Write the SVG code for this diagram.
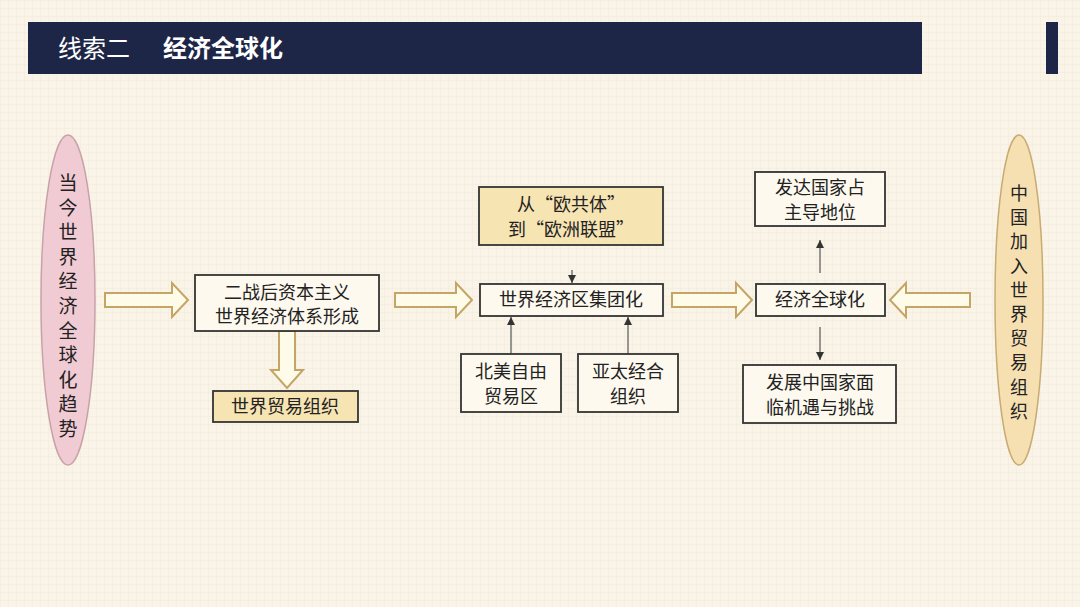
<svg xmlns="http://www.w3.org/2000/svg" width="1080" height="607" viewBox="0 0 1080 607">
<defs>
<pattern id="grid" width="8" height="8" patternUnits="userSpaceOnUse"><path d="M8 0H0V8" fill="none" stroke="#f0e9d9" stroke-width="0.8"/></pattern>
<marker id="ah" viewBox="0 0 10 10" refX="10" refY="5" markerWidth="7" markerHeight="7" orient="auto"><path d="M0 0L10 5L0 10z" fill="#333"/></marker>
<style>
.t{font-family:"Noto Sans CJK SC","Noto Sans",sans-serif;fill:#222;font-size:18px;text-anchor:middle}
.box{fill:#fdf9ee;stroke:#333;stroke-width:1.8}
.ybox{fill:#f6e4b2;stroke:#333;stroke-width:1.8}
.ha{fill:#fffbe9;stroke:#c4a565;stroke-width:2}
.ln{stroke:#555;stroke-width:1.2;fill:none}
</style>
</defs>
<rect width="1080" height="607" fill="#f9f4e7"/>
<rect width="1080" height="607" fill="url(#grid)"/>
<g id="title">
<rect x="28" y="22" width="894" height="52" fill="#1e2647"/>
<rect x="1046" y="22" width="12" height="52" fill="#1e2647"/>
<text x="58" y="57" style="font-family:'Noto Sans CJK SC',sans-serif;font-size:24px;fill:#fff">线索二</text>
<text x="163" y="57" style="font-family:'Noto Sans CJK SC',sans-serif;font-size:24px;font-weight:bold;fill:#fff">经济全球化</text>
</g>
<g id="connectors">
<path class="ha" d="M105 293H172V283L188 300L172 317V307H105Z"/>
<path class="ha" d="M395 293H456V283L472 300L456 317V307H395Z"/>
<path class="ha" d="M672 293H736V283L752 300L736 317V307H672Z"/>
<path class="ha" d="M970 293H906V283L890 300L906 317V307H970Z"/>
<path class="ha" d="M279 331V370H271L287 388L303 370H295V331Z"/>
<line class="ln" x1="572" y1="270" x2="572" y2="283" marker-end="url(#ah)"/>
<line class="ln" x1="511" y1="354" x2="511" y2="317" marker-end="url(#ah)"/>
<line class="ln" x1="628" y1="354" x2="628" y2="317" marker-end="url(#ah)"/>
<line class="ln" x1="820" y1="273" x2="820" y2="240" marker-end="url(#ah)"/>
<line class="ln" x1="820" y1="327" x2="820" y2="360" marker-end="url(#ah)"/>
</g>
<g id="left">
<ellipse cx="68" cy="300" rx="27" ry="165" fill="#f1cbd3" stroke="#c8a2a8" stroke-width="1.5"/>
<text class="t" style="font-size:19px"><tspan x="68" y="190">当</tspan><tspan x="68" y="214.6">今</tspan><tspan x="68" y="239.2">世</tspan><tspan x="68" y="263.8">界</tspan><tspan x="68" y="288.4">经</tspan><tspan x="68" y="313">济</tspan><tspan x="68" y="337.6">全</tspan><tspan x="68" y="362.2">球</tspan><tspan x="68" y="386.8">化</tspan><tspan x="68" y="411.4">趋</tspan><tspan x="68" y="436">势</tspan></text>
</g>
<g id="right">
<ellipse cx="1019" cy="300" rx="24" ry="165" fill="#f6e0b2" stroke="#c8ab72" stroke-width="1.5"/>
<text class="t" style="font-size:18px"><tspan x="1019" y="200">中</tspan><tspan x="1019" y="224.2">国</tspan><tspan x="1019" y="248.4">加</tspan><tspan x="1019" y="272.6">入</tspan><tspan x="1019" y="296.8">世</tspan><tspan x="1019" y="321">界</tspan><tspan x="1019" y="345.2">贸</tspan><tspan x="1019" y="369.4">易</tspan><tspan x="1019" y="393.6">组</tspan><tspan x="1019" y="417.8">织</tspan></text>
</g>
<g id="n1"><rect class="box" x="195" y="275" width="184" height="56"/><text class="t" x="287" y="299">二战后资本主义</text><text class="t" x="287" y="323">世界经济体系形成</text></g>
<g id="n2"><rect class="ybox" x="213" y="391" width="145" height="31"/><text class="t" x="285" y="413">世界贸易组织</text></g>
<g id="n3"><rect class="ybox" x="479" y="187" width="184" height="58"/><text class="t" x="571" y="211">从“欧共体”</text><text class="t" x="571" y="236">到“欧洲联盟”</text></g>
<g id="n4"><rect class="box" x="480" y="284" width="183" height="32"/><text class="t" x="571" y="306">世界经济区集团化</text></g>
<g id="n5"><rect class="box" x="461" y="354" width="100" height="58"/><text class="t" x="511" y="378">北美自由</text><text class="t" x="511" y="403">贸易区</text></g>
<g id="n6"><rect class="box" x="578" y="354" width="100" height="58"/><text class="t" x="628" y="378">亚太经合</text><text class="t" x="628" y="403">组织</text></g>
<g id="n7"><rect class="box" x="756" y="284" width="129" height="32"/><text class="t" x="820" y="306">经济全球化</text></g>
<g id="n8"><rect class="box" x="755" y="172" width="130" height="54"/><text class="t" x="820" y="194">发达国家占</text><text class="t" x="820" y="219">主导地位</text></g>
<g id="n9"><rect class="box" x="743" y="365" width="153" height="58"/><text class="t" x="820" y="389">发展中国家面</text><text class="t" x="820" y="414">临机遇与挑战</text></g>
</svg>
